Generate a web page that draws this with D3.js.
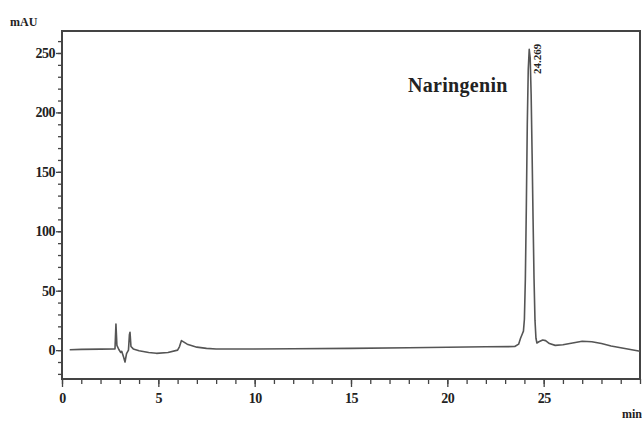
<!DOCTYPE html>
<html>
<head>
<meta charset="utf-8">
<script src="https://cdn.jsdelivr.net/npm/d3@7"></script>
<style>
  body { margin: 0; background: #fff; }
  svg text { font-family: "Liberation Serif", "Times New Roman", serif; font-weight: bold; fill: #222; }
</style>
</head>
<body>
<script>
// chromatogram trace: retention time (min) and absorbance (mAU)
var times = [0.4, 1.0, 2.0, 2.75, 2.8, 2.85, 2.95, 3.05, 3.1, 3.2, 3.27, 3.35, 3.45, 3.5, 3.53, 3.58, 3.7,
  4.0, 4.5, 4.9, 5.5, 6.0, 6.1, 6.2, 6.5, 7.0, 7.5, 8.0, 10, 12, 15, 18, 20, 22, 23.5,
  23.7, 23.8, 23.9, 23.95, 24.0, 24.05, 24.1, 24.15, 24.2, 24.25, 24.3, 24.35, 24.4, 24.45, 24.5,
  24.55, 24.6, 24.65, 24.75, 24.95, 25.1, 25.3, 25.6, 26.0, 26.5, 27.0, 27.5, 28.0, 28.5, 29.0, 29.5, 30.0];
var mAU = [0.3, 0.6, 0.8, 1, 22, 4, 0.5, -2, -1, -6, -10, -3, 0, 13, 15, 3, 1,
  -0.5, -2, -2.7, -2, 0, 3, 8, 5, 2.5, 1.5, 1, 1, 1.2, 1.5, 2, 2.4, 2.8, 3,
  5, 10, 14, 16, 26, 60, 120, 190, 236, 253, 246, 215, 165, 110, 60,
  25, 10, 6, 7, 8.5, 8, 5.5, 4, 4.5, 6, 7.5, 7, 5.5, 3.5, 2, 0.5, -1];

var xTicks = [0, 5, 10, 15, 20, 25];
var yTicks = [0, 50, 100, 150, 200, 250];
var peakLabel = "Naringenin";
var peakTime = "24.269";

var W = 642, H = 427;
var plotL = 62, plotR = 640, plotT = 31, plotB = 379;

var svg = d3.select("body").append("svg")
  .attr("width", W)
  .attr("height", H);

var x = d3.scaleLinear().domain([0, 30]).range([plotL, plotR]);
var y = d3.scaleLinear().domain([-24.3, 268.5]).range([plotB, plotT]);

// frame
svg.append("rect")
  .attr("x", plotL).attr("y", plotT)
  .attr("width", plotR - plotL).attr("height", plotB - plotT)
  .attr("fill", "none")
  .attr("stroke", "#444")
  .attr("stroke-width", 2);

// y axis: minor ticks every 10, labels every 50
var yAxisMinor = d3.axisLeft(y).tickValues(d3.range(-20, 261, 10)).tickSize(4).tickFormat("");
var gyMinor = svg.append("g").attr("transform", "translate(" + plotL + ",0)").call(yAxisMinor);
var yAxis = d3.axisLeft(y).tickValues(yTicks).tickSize(6).tickPadding(1);
var gy = svg.append("g").attr("transform", "translate(" + plotL + ",0)").call(yAxis);

// x axis: minor ticks every 1 min
var xAxisMinor = d3.axisBottom(x).tickValues(d3.range(0, 31, 1)).tickSize(5).tickFormat("");
var gxMinor = svg.append("g").attr("transform", "translate(0," + plotB + ")").call(xAxisMinor);
var xAxis = d3.axisBottom(x).tickValues(xTicks).tickSize(8).tickPadding(6);
var gx = svg.append("g").attr("transform", "translate(0," + plotB + ")").call(xAxis);

[gyMinor, gy, gxMinor, gx].forEach(function(g) {
  g.select(".domain").remove();
  g.selectAll("line").attr("stroke", "#444").attr("stroke-width", 1.3);
  g.selectAll("text")
    .style("font-family", "'Liberation Serif', serif")
    .style("font-weight", "bold")
    .style("font-size", "14px")
    .style("letter-spacing", "-0.5px")
    .attr("fill", "#222");
});

// axis units
svg.append("text").attr("x", 10).attr("y", 26).style("font-size", "12px").text("mAU");
svg.append("text").attr("x", 622).attr("y", 418).style("font-size", "12px").text("min");

// trace
var pts = times.map(function(t, i) { return [t, mAU[i]]; });
var line = d3.line()
  .x(function(d) { return x(d[0]); })
  .y(function(d) { return y(d[1]); });

svg.append("path")
  .datum(pts)
  .attr("d", line)
  .attr("fill", "none")
  .attr("stroke", "#555")
  .attr("stroke-width", 1.6)
  .attr("stroke-linejoin", "round");

// peak annotations
svg.append("text")
  .attr("x", 408).attr("y", 92)
  .style("font-size", "20px")
  .style("letter-spacing", "0.3px")
  .text(peakLabel);

svg.append("text")
  .attr("transform", "translate(541,74) rotate(-90)")
  .style("font-size", "11px")
  .text(peakTime);
</script>
</body>
</html>
